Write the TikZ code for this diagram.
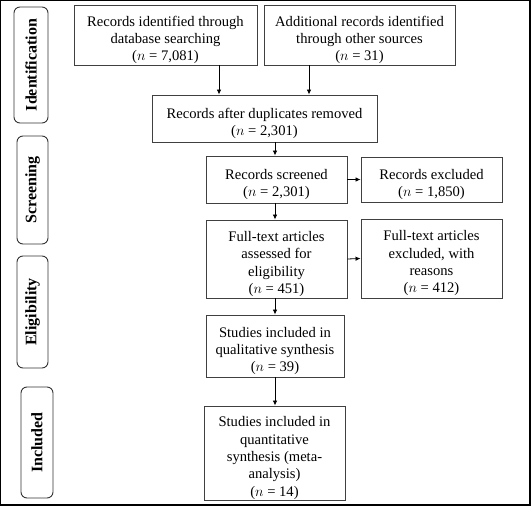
\documentclass[tikz,border=0pt]{standalone}
\usepackage{fontspec}
\setmainfont{Liberation Serif}
\usepackage{tikz}
\usetikzlibrary{arrows.meta}
\newcommand{\boxtop}{\rule{0pt}{20pt}}
\tikzset{
	boxstyle/.style={rectangle,draw=black!75,line width=0.9pt,fill=white,inner sep=0pt,align=center,font=\fontsize{14.6}{17.3}\selectfont},
	phasestyle/.style={rectangle,rounded corners=6pt,draw=black!80,line width=0.9pt,inner sep=0pt,rotate=90,font=\fontsize{16}{18}\selectfont\bfseries},
	arrowstyle/.style={draw=black,line width=0.8pt,-{Latex[length=5pt,width=4.5pt]}}
}
\begin{document}
\begin{tikzpicture}[x=1pt,y=-1pt]
		\useasboundingbox (0,0) rectangle (531,506);
		\draw[line width=1pt] (0.5,505) -- (0.5,0.5) -- (530,0.5);
		\draw[line width=2pt] (530,0) -- (530,505) -- (0,505);
		% phases
		\node[phasestyle,minimum width=116pt,minimum height=34pt] (idf) at (31,65) {Identification};
		\node[phasestyle,minimum width=108pt,minimum height=31pt] (scr) at (32.5,190) {Screening};
		\node[phasestyle,minimum width=112pt,minimum height=31pt] (elg) at (32.5,312) {Eligibility};
		\node[phasestyle,minimum width=111pt,minimum height=32pt] (inc) at (37,442.5) {Included};
		% records
		\node[boxstyle,minimum width=183pt,minimum height=60pt] (db) at (165.5,35) {\boxtop Records identified through\\database searching\\($n$ = 7,081)};
		\node[boxstyle,minimum width=191pt,minimum height=60pt] (oth) at (359.5,35) {\boxtop Additional records identified\\through other sources\\($n$ = 31)};
		\node[boxstyle,minimum width=225pt,minimum height=47pt] (dup) at (264.5,118.5) {\boxtop Records after duplicates removed\\($n$ = 2,301)};
		\node[boxstyle,minimum width=141pt,minimum height=47pt] (scrn) at (276.5,179.5) {\boxtop Records screened\\($n$ = 2,301)};
		\node[boxstyle,minimum width=141pt,minimum height=45pt] (excl) at (431.5,179.5) {\boxtop Records excluded\\($n$ = 1,850)};
		\node[boxstyle,minimum width=141pt,minimum height=78pt] (full) at (276.5,259) {\boxtop Full-text articles\\assessed for\\eligibility\\($n$ = 451)};
		\node[boxstyle,minimum width=141pt,minimum height=79pt] (fexcl) at (431.5,258.5) {\boxtop Full-text articles\\excluded, with\\reasons\\($n$ = 412)};
		\node[boxstyle,minimum width=138pt,minimum height=62pt] (qual) at (275,346) {\boxtop Studies included in\\qualitative synthesis\\($n$ = 39)};
		\node[boxstyle,minimum width=141pt,minimum height=94pt] (quant) at (274.5,453) {\boxtop Studies included in\\quantitative\\synthesis (meta-\\analysis)\\($n$ = 14)};
		% arrows
		\draw[arrowstyle] ([xshift=53.5pt]db.south) -- ([xshift=53.5pt]db.south |- dup.north);
		\draw[arrowstyle] ([xshift=-50.5pt]oth.south) -- ([xshift=-50.5pt]oth.south |- dup.north);
		\draw[arrowstyle] (dup.south -| qual) -- (qual |- scrn.north);
		\draw[arrowstyle] (scrn.east) -- (excl.west);
		\draw[arrowstyle] (scrn.south -| qual) -- (qual |- full.north);
		\draw[arrowstyle] (full.east) -- (fexcl.west);
		\draw[arrowstyle] (qual |- full.south) -- (qual.north);
		\draw[arrowstyle] (qual.south) -- (qual.south |- quant.north);
		\end{tikzpicture}
\end{document}
